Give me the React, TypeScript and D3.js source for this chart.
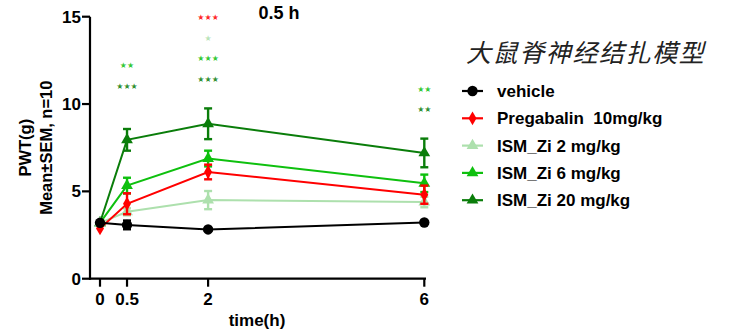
import * as d3 from 'd3';

const W = 731;
const H = 330;

const times = [0, 0.5, 2, 6];
const xTicks = [0, 0.5, 2, 6];
const yTicks = [0, 5, 10, 15];

const vehicleMean = [3.2, 3.08, 2.82, 3.22];
const vehicleSem = [0, 0.25, 0, 0];
const pregabalinMean = [2.88, 4.29, 6.11, 4.81];
const pregabalinSem = [0, 0.6, 0.42, 0.52];
const ism2Mean = [3.2, 3.83, 4.5, 4.39];
const ism2Sem = [0, 0.2, 0.52, 0.3];
const ism6Mean = [3.2, 5.33, 6.88, 5.46];
const ism6Sem = [0, 0.45, 0.45, 0.5];
const ism20Mean = [3.2, 7.95, 8.87, 7.2];
const ism20Sem = [0, 0.62, 0.88, 0.82];

const seriesNames = ['vehicle', 'Pregabalin  10mg/kg', 'ISM_Zi 2 mg/kg', 'ISM_Zi 6 mg/kg', 'ISM_Zi 20 mg/kg'];
const seriesColors = ['#000000', '#ff0000', '#ade0ad', '#0ec00e', '#0a7d0a'];
const seriesShapes = ['circle', 'diamond', 'triangle', 'triangle', 'triangle'];

// significance marks: [series index, time, label]
const sigMarks: [number, number, string][] = [
  [3, 0.5, '★★'],
  [4, 0.5, '★★★'],
  [1, 2, '★★★'],
  [2, 2, '★'],
  [3, 2, '★★★'],
  [4, 2, '★★★'],
  [3, 6, '★★'],
  [4, 6, '★★'],
];
const sigLevels = [12.25, 11.05, 14.95, 13.8, 12.65, 11.4, 10.85, 9.7];

const legendTitle = '大鼠脊神经结扎模型';

const FONT = '"Liberation Sans", Arial, sans-serif';

function Marker({ shape, cx, cy, color }: { shape: string; cx: number; cy: number; color: string }) {
  if (shape === 'circle') return <circle cx={cx} cy={cy} r={5.2} fill={color} />;
  const type = shape === 'diamond' ? d3.symbolDiamond : d3.symbolTriangle;
  const size = shape === 'diamond' ? 55 : 60;
  const path = d3.symbol().type(type).size(size)()!;
  return <path d={path} transform={`translate(${cx},${cy})`} fill={color} />;
}

export default function App() {
  const means = [vehicleMean, pregabalinMean, ism2Mean, ism6Mean, ism20Mean];
  const sems = [vehicleSem, pregabalinSem, ism2Sem, ism6Sem, ism20Sem];

  const x = d3.scaleLinear().domain([0, 6]).range([100, 424.3]);
  const y = d3.scaleLinear().domain([0, 15]).range([278.7, 16.7]);
  const xAxisStart = 90;
  const xAxisEnd = 426;
  const line = d3.line<number>().x((_, i) => x(times[i])).y(d => y(d));

  const order = [4, 3, 2, 1, 0];

  return (
    <svg width={W} height={H} style={{ position: 'absolute', left: 0, top: 0, background: '#fff' }} fontFamily={FONT}>
      {/* axes */}
      <line x1={xAxisStart} x2={xAxisStart} y1={y(15)} y2={y(0) + 1} stroke="#000" strokeWidth={2.2} />
      <line x1={xAxisStart - 1} x2={xAxisEnd} y1={y(0)} y2={y(0)} stroke="#000" strokeWidth={2.2} />
      {yTicks.map(t => (
        <g key={t}>
          <line x1={xAxisStart - 8} x2={xAxisStart} y1={y(t)} y2={y(t)} stroke="#000" strokeWidth={2.2} />
          <text x={xAxisStart - 9} y={y(t)} dy="0.36em" textAnchor="end" fontSize={17} fontWeight="bold">{t}</text>
        </g>
      ))}
      {xTicks.map(t => (
        <g key={t}>
          <line x1={x(t)} x2={x(t)} y1={y(0)} y2={y(0) + 8} stroke="#000" strokeWidth={2.2} />
          <text x={x(t)} y={y(0) + 20} dy="0.36em" textAnchor="middle" fontSize={17} fontWeight="bold">{t}</text>
        </g>
      ))}
      <text x={257} y={320} dy="0.36em" textAnchor="middle" fontSize={17} fontWeight="bold">time(h)</text>
      <text transform={`translate(25,${y(7.5)}) rotate(-90)`} dy="0.36em" textAnchor="middle" fontSize={16.5} fontWeight="bold">PWT(g)</text>
      <text transform={`translate(46.5,${y(7.5)}) rotate(-90)`} dy="0.36em" textAnchor="middle" fontSize={16.5} fontWeight="bold">Mean±SEM, n=10</text>
      <text x={279} y={13} dy="0.36em" textAnchor="middle" fontSize={18} fontWeight="bold">0.5 h</text>

      {/* series */}
      {order.map(s => (
        <g key={s}>
          <path d={line(means[s])!} fill="none" stroke={seriesColors[s]} strokeWidth={2} />
          {means[s].map((m, i) => sems[s][i] > 0 ? (
            <g key={i} stroke={seriesColors[s]} strokeWidth={2.4}>
              <line x1={x(times[i])} x2={x(times[i])} y1={y(m - sems[s][i])} y2={y(m + sems[s][i])} />
              <line x1={x(times[i]) - 4} x2={x(times[i]) + 4} y1={y(m - sems[s][i])} y2={y(m - sems[s][i])} />
              <line x1={x(times[i]) - 4} x2={x(times[i]) + 4} y1={y(m + sems[s][i])} y2={y(m + sems[s][i])} />
            </g>
          ) : null)}
          {means[s].map((m, i) => (
            <Marker key={i} shape={seriesShapes[s]} cx={x(times[i])} cy={y(m)} color={seriesColors[s]} />
          ))}
        </g>
      ))}

      {/* significance */}
      {sigMarks.map(([s, t, label], i) => (
        <text key={i} x={x(t)} y={y(sigLevels[i])} dy="0.36em" textAnchor="middle" fontSize={8}
          fontFamily='"DejaVu Sans", sans-serif' fill={seriesColors[s]} fillOpacity={0.85}>{label}</text>
      ))}

      {/* legend */}
      <text x={466} y={53} dy="0.36em" fontSize={25} fontStyle="italic" fill="#222"
        fontFamily='"Noto Sans CJK SC", sans-serif' letterSpacing={1.6}>{legendTitle}</text>
      {seriesNames.map((name, i) => {
        const ly = 91 + i * 27.3;
        return (
          <g key={name}>
            <line x1={462} x2={483} y1={ly} y2={ly} stroke={seriesColors[i]} strokeWidth={2.2} />
            <Marker shape={seriesShapes[i]} cx={472.5} cy={ly} color={seriesColors[i]} />
            <text x={497} y={ly} dy="0.36em" fontSize={17} fontWeight="bold" style={{ whiteSpace: 'pre' }}>{name}</text>
          </g>
        );
      })}
    </svg>
  );
}
